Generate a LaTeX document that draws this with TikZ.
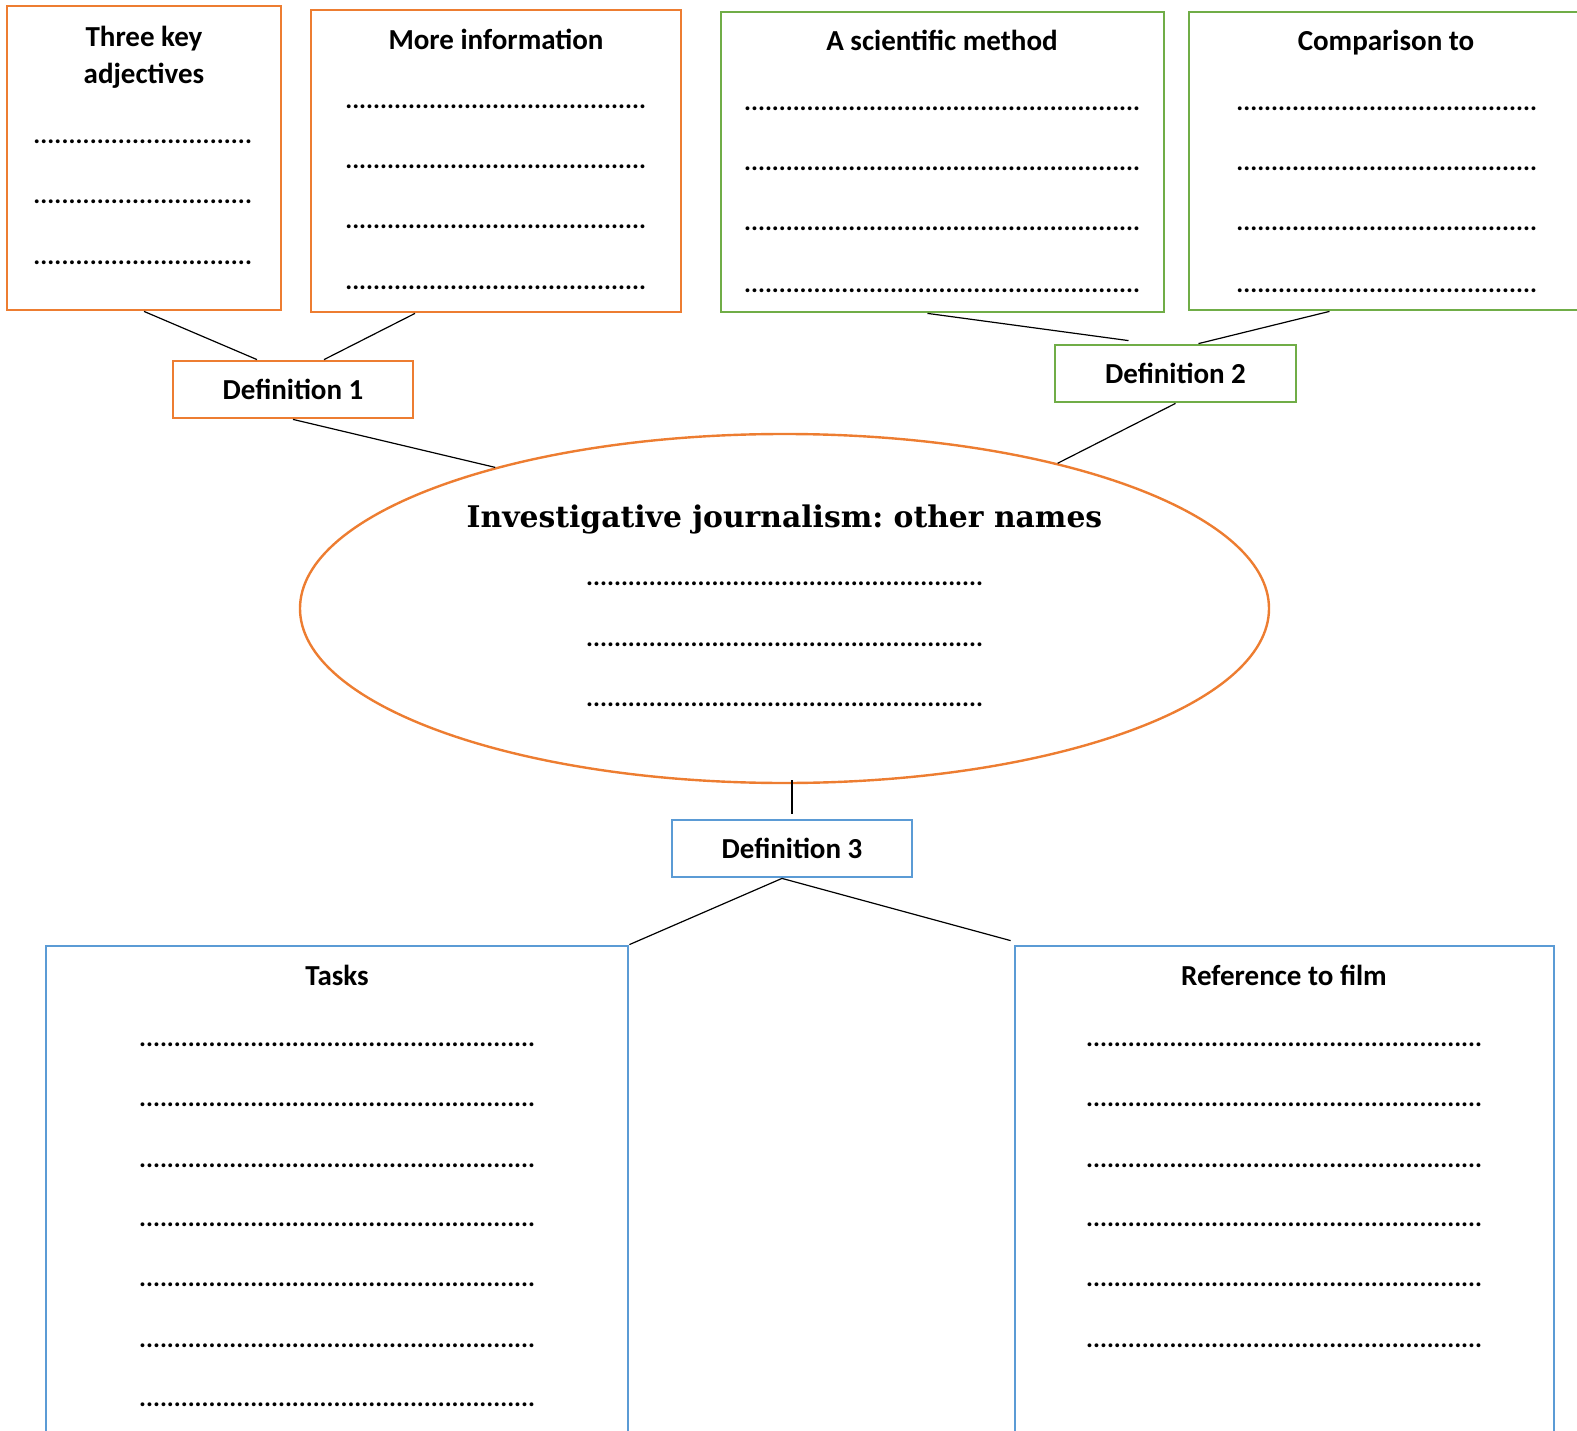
\documentclass[tikz,border=0pt]{standalone}
\usepackage{fontspec}
\setmainfont{Carlito}
\newfontfamily\titlefamily{DejaVu Serif}
\usetikzlibrary{positioning,shapes.geometric}
\definecolor{boxorange}{HTML}{ED7D31}
\definecolor{boxgreen}{HTML}{70AD47}
\definecolor{boxblue}{HTML}{5B9BD5}
% a row of full stops of a given width (pt)
\newcommand\dotrule[1]{\makebox[#1pt]{\xleaders\hbox{.}\hfill}}

\begin{document}
\begin{tikzpicture}[
  x=1pt, y=-1pt,
  panel/.style={draw, line width=2.8pt, inner sep=0pt},
  orangepanel/.style={panel, draw=boxorange},
  greenpanel/.style={panel, draw=boxgreen},
  bluepanel/.style={panel, draw=boxblue},
  defbox/.style={panel, minimum width=240pt, minimum height=57pt, font=\fontsize{29}{37}\selectfont\bfseries},
  head/.style={anchor=base, inner sep=0pt, align=center, font=\fontsize{29}{37}\selectfont\bfseries},
  dotrow/.style={anchor=base west, inner sep=0pt, font=\fontsize{26}{30}\selectfont\bfseries},
  link/.style={line width=1.2pt, black}
]
  \clip (0,0) rectangle (1577,1431);

  % top panels
  \node[orangepanel, minimum width=274pt, minimum height=304pt] (adj) at (144,158) {};
  \node[orangepanel, minimum width=370pt, minimum height=302pt] (info) at (496,161) {};
  \node[greenpanel, minimum width=443pt, minimum height=300pt] (sci) at (942.5,162) {};
  \node[greenpanel, minimum width=401pt, minimum height=298pt] (comp) at (1389.5,161) {};

  \node[head] (adj-t) at (144,84) {Three key\\adjectives};
  \node[head] (info-t) at (496,50) {More information};
  \node[head] (sci-t) at (942,51) {A scientific method};
  \node[head] (comp-t) at (1386,51) {Comparison to};

  \foreach \y [count=\i] in {143.5,203.5,264.5}
    \node[dotrow] (adj-\i) at (33,\y) {\dotrule{219}};
  \foreach \y [count=\i] in {108.5,168.5,228.5,289.5}
    \node[dotrow] (info-\i) at (345,\y) {\dotrule{301}};
  \foreach \y [count=\i] in {110.5,170.5,230.5,292.5} {
    \node[dotrow] (sci-\i) at (744,\y) {\dotrule{396}};
    \node[dotrow] (comp-\i) at (1236,\y) {\dotrule{301}};
  }

  % definitions
  \node[defbox, draw=boxorange] (def1) at (293,389.5) {Definition 1};
  \node[defbox, draw=boxgreen, minimum width=241pt] (def2) at (1175.5,373.5) {Definition 2};
  \node[defbox, draw=boxblue] (def3) at (792,848.5) {Definition 3};

  % centre
  \node[ellipse, draw=boxorange, line width=2.4pt, minimum width=969pt, minimum height=349pt] (names) at (784.5,608.5) {};
  \node[anchor=base, inner sep=0pt, font=\titlefamily\bfseries\fontsize{29.8}{34}\selectfont\frenchspacing] (names-t) at (784.5,527) {Investigative journalism: other names};
  \foreach \y [count=\i] in {585.5,646.5,706.5}
    \node[dotrow] (names-\i) at (586,\y) {\dotrule{397}};

  % bottom panels
  \node[bluepanel, minimum width=582pt, minimum height=514pt] (tasks) at (337,1203) {};
  \node[bluepanel, minimum width=539pt, minimum height=514pt] (film) at (1284.5,1203) {};
  \node[head] (tasks-t) at (337,985) {Tasks};
  \node[head] (film-t) at (1284,985) {Reference to film};
  \foreach \y [count=\i] in {1046.5,1106.5,1167.5,1226.5,1286.5,1347.5,1406.5}
    \node[dotrow] (tasks-\i) at (139,\y) {\dotrule{396}};
  \foreach \y [count=\i] in {1046.5,1106.5,1167.5,1226.5,1286.5,1347.5}
    \node[dotrow] (film-\i) at (1086,\y) {\dotrule{396}};

  % connectors
  \draw[link] (adj.south) -- ([xshift=-36pt]def1.north);
  \draw[link] ([xshift=-81pt]info.south) -- ([xshift=31pt]def1.north);
  \draw[link] (def1.south) -- (names.154);
  \draw[link] ([xshift=-15pt]sci.south) -- ([xshift=-47pt,yshift=3pt]def2.north);
  \draw[link] ([xshift=-60pt]comp.south) -- ([xshift=23pt]def2.north);
  \draw[link] (def2.south) -- (names.28.6);
  \draw[link] ([yshift=4pt]names.south -| def3.north) -- ([yshift=5pt]def3.north);
  \draw[link] ([xshift=-10pt]def3.south) -- (tasks.north east);
  \draw[link] ([xshift=-10pt]def3.south) -- ([xshift=-3pt,yshift=4pt]film.north west);
\end{tikzpicture}
\end{document}
